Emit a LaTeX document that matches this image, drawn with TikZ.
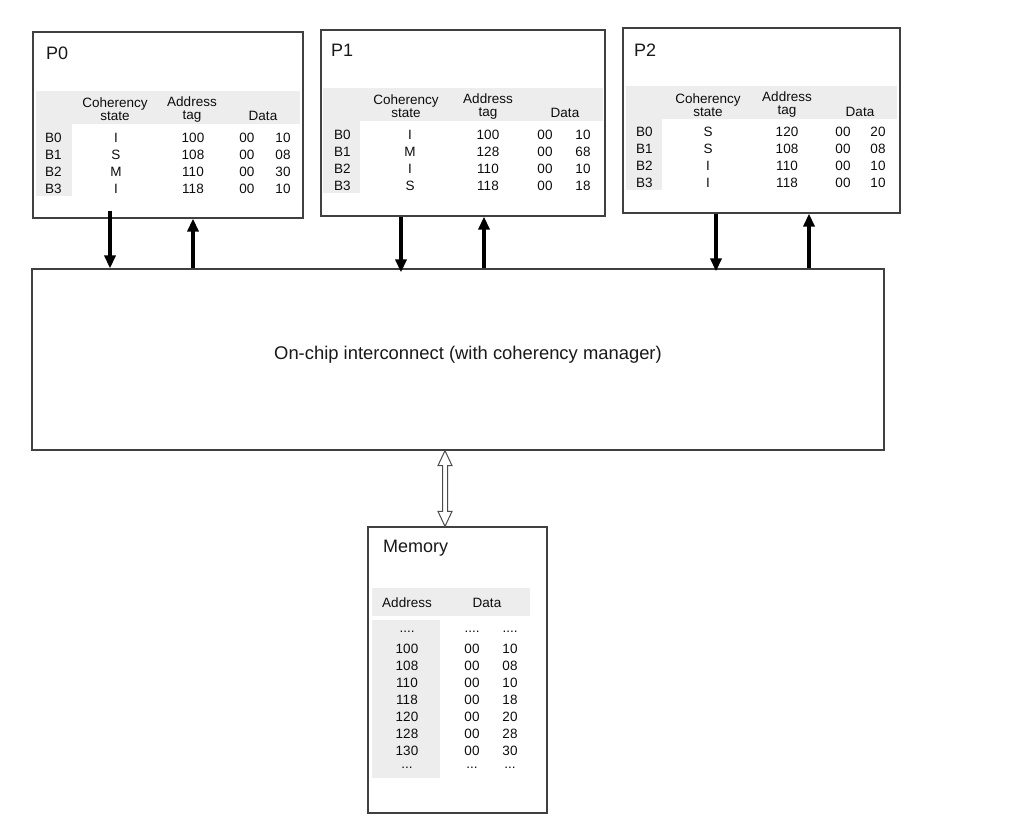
\documentclass[tikz,border=0pt]{standalone}
\usepackage{fontspec}
\setmainfont{Liberation Sans}
\usetikzlibrary{arrows.meta,calc}
\newcommand\dotsfour{....}
\newcommand\dotsthree{...}
\begin{document}
\begin{tikzpicture}[x=1pt,y=-1pt]
\tikzset{
 box/.style={draw=black!75,line width=1.2pt,inner sep=0pt},
 ttl/.style={font=\fontsize{18}{20}\selectfont,anchor=west,inner sep=0pt,text=black!90},
 cell/.style={font=\fontsize{13.5}{15}\selectfont,inner sep=0pt,text=black!95},
 hdr/.style={cell,align=center,font=\fontsize{13.5}{13}\selectfont},
 stip/.style={fill=black!7,draw=none},
 bus/.style={line width=3.6pt,draw=black,-{Triangle[length=13pt,width=11pt]}},
 hollow/.style={draw=black!70,line width=1pt,fill=white},
 big/.style={font=\fontsize{18.4}{20}\selectfont,text=black!90}
}
\useasboundingbox[fill=white] (0,0) rectangle (1029,824);

% stipple bands
\fill[stip] (36,91) rectangle (300,124);
\fill[stip] (36,124) rectangle (72,196);
\fill[stip] (323,88) rectangle (603,121);
\fill[stip] (323,121) rectangle (360,193);
\fill[stip] (626,86) rectangle (897,119);
\fill[stip] (626,119) rectangle (662,190);
\fill[stip] (372,588) rectangle (530,616);
\fill[stip] (372,620) rectangle (440,778);

% boxes
\node[box,minimum width=270pt,minimum height=186pt] (p0) at (168,125) {};
\node[box,minimum width=284pt,minimum height=186pt] (p1) at (463,123) {};
\node[box,minimum width=277pt,minimum height=185pt] (p2) at (761.5,120.5) {};
\node[box,minimum width=852pt,minimum height=181pt] (ic) at (458,359.5) {};
\node[box,minimum width=179pt,minimum height=286pt] (mem) at (457.5,670) {};

% P0
\node[ttl] (p0t) at (46,53) {P0};
\node[hdr] (p0h1) at (115,109.5) {Coherency\\state};
\node[hdr] (p0h2) at (192,109.5) {Address\\tag};
\node[cell] (p0h3) at (263,116) {Data};
\foreach \b/\s/\t/\d/\e [count=\i from 0] in {B0/I/100/00/10,B1/S/108/00/08,B2/M/110/00/30,B3/I/118/00/10}{
  \node[cell,anchor=west] (p0b\i) at (45,{138+17*\i}) {\b};
  \node[cell] (p0s\i) at (116,{138+17*\i}) {\s};
  \node[cell] (p0a\i) at (193,{138+17*\i}) {\t};
  \node[cell] (p0d\i) at (247,{138+17*\i}) {\d};
  \node[cell] (p0e\i) at (283,{138+17*\i}) {\e};
}

% P1
\node[ttl] (p1t) at (331,50) {P1};
\node[hdr] (p1h1) at (406,106.5) {Coherency\\state};
\node[hdr] (p1h2) at (488,106.5) {Address\\tag};
\node[cell] (p1h3) at (565,113) {Data};
\foreach \b/\s/\t/\d/\e [count=\i from 0] in {B0/I/100/00/10,B1/M/128/00/68,B2/I/110/00/10,B3/S/118/00/18}{
  \node[cell,anchor=west] (p1b\i) at (334,{135+17*\i}) {\b};
  \node[cell] (p1s\i) at (410,{135+17*\i}) {\s};
  \node[cell] (p1a\i) at (488,{135+17*\i}) {\t};
  \node[cell] (p1d\i) at (545,{135+17*\i}) {\d};
  \node[cell] (p1e\i) at (583,{135+17*\i}) {\e};
}

% P2
\node[ttl] (p2t) at (634,50) {P2};
\node[hdr] (p2h1) at (708,105) {Coherency\\state};
\node[hdr] (p2h2) at (787,105) {Address\\tag};
\node[cell] (p2h3) at (860,112) {Data};
\foreach \b/\s/\t/\d/\e [count=\i from 0] in {B0/S/120/00/20,B1/S/108/00/08,B2/I/110/00/10,B3/I/118/00/10}{
  \node[cell,anchor=west] (p2b\i) at (636,{132+17*\i}) {\b};
  \node[cell] (p2s\i) at (708,{132+17*\i}) {\s};
  \node[cell] (p2a\i) at (787,{132+17*\i}) {\t};
  \node[cell] (p2d\i) at (843,{132+17*\i}) {\d};
  \node[cell] (p2e\i) at (878,{132+17*\i}) {\e};
}

% interconnect
\node[big] (ict) at (468,355) {On-chip interconnect (with coherency manager)};

% memory
\node[ttl] (memt) at (383,548) {Memory};
\node[cell] (mh1) at (407,603) {Address};
\node[cell] (mh2) at (487,603) {Data};
\foreach \a/\b/\c [count=\i from 0] in {\dotsfour/\dotsfour/\dotsfour,100/00/10,108/00/08,110/00/10,118/00/18,120/00/20,128/00/28,130/00/30,\dotsthree/\dotsthree/\dotsthree}{
  \node[cell] (ma\i) at (407,{632+17*\i}) {\a};
  \node[cell] (mb\i) at (472,{632+17*\i}) {\b};
  \node[cell] (mc\i) at (510,{632+17*\i}) {\c};
}

% bus arrows
\coordinate (x0d) at (110,0); \coordinate (x0u) at (193,0);
\coordinate (x1d) at (401,0); \coordinate (x1u) at (484,0);
\coordinate (x2d) at (716,0); \coordinate (x2u) at (809,0);
\draw[bus] ($(p0.south -| x0d)+(0,-8)$) -- (ic.north -| x0d);
\draw[bus] (ic.north -| x0u) -- (p0.south -| x0u);
\draw[bus] (p1.south -| x1d) -- ($(ic.north -| x1d)+(0,4)$);
\draw[bus] (ic.north -| x1u) -- (p1.south -| x1u);
\draw[bus] (p2.south -| x2d) -- ($(ic.north -| x2d)+(0,3)$);
\draw[bus] (ic.north -| x2u) -- (p2.south -| x2u);

% hollow double arrow between interconnect and memory
\coordinate (mx) at (445,0);
\coordinate (ha) at (ic.south -| mx);
\coordinate (hb) at (mem.north -| mx);
\draw[hollow] (ha) -- ($(ha)+(7,15)$) -- ($(ha)+(2.5,15)$) -- ($(hb)+(2.5,-15)$) -- ($(hb)+(7,-15)$) -- (hb)
  -- ($(hb)+(-7,-15)$) -- ($(hb)+(-2.5,-15)$) -- ($(ha)+(-2.5,15)$) -- ($(ha)+(-7,15)$) -- cycle;
\end{tikzpicture}
\end{document}
